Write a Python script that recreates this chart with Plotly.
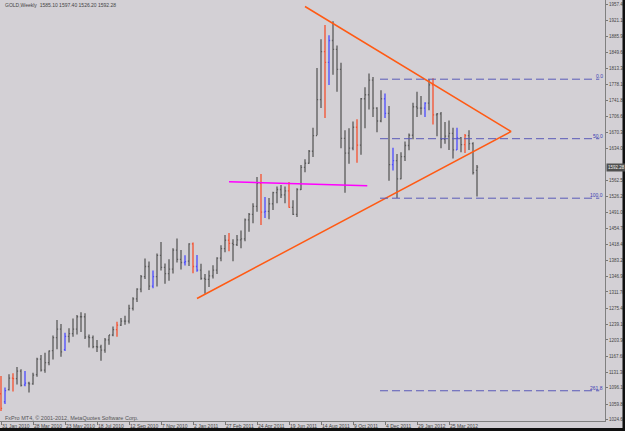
import pandas as pd
import plotly.graph_objects as go

# ---------------- data ----------------
start_week = "2010-01-31"   # first weekly bar (Sunday)

opens = [1083, 1065, 1092, 1118, 1117, 1134, 1103, 1107, 1105, 1126,
         1161, 1136, 1153, 1180, 1209, 1228, 1182, 1212, 1218, 1228,
         1256, 1256, 1211, 1209, 1189, 1188, 1181, 1204, 1215, 1227,
         1237, 1246, 1246, 1275, 1296, 1318, 1346, 1369, 1325, 1346,
         1394, 1367, 1353, 1363, 1406, 1385, 1378, 1381, 1420, 1369,
         1361, 1342, 1340, 1348, 1361, 1388, 1409, 1428, 1421, 1418,
         1429, 1431, 1474, 1486, 1504, 1556, 1491, 1493, 1510, 1535,
         1542, 1530, 1539, 1502, 1486, 1542, 1592, 1601, 1628, 1663,
         1744, 1852, 1828, 1877, 1857, 1812, 1657, 1624, 1635, 1682,
         1642, 1746, 1755, 1788, 1725, 1696, 1746, 1713, 1598, 1607,
         1566, 1616, 1641, 1664, 1728, 1725, 1725, 1736, 1777, 1710,
         1712, 1655, 1662, 1668, 1631, 1658, 1643, 1663, 1645, 1585.10]
highs = [1123, 1097, 1127, 1129, 1143, 1138, 1134, 1110, 1130, 1164,
         1170, 1175, 1180, 1214, 1249, 1240, 1220, 1230, 1252, 1260,
         1266, 1264, 1216, 1214, 1204, 1193, 1208, 1215, 1234, 1245,
         1253, 1258, 1283, 1300, 1320, 1350, 1387, 1380, 1360, 1398,
         1424, 1376, 1385, 1410, 1432, 1406, 1394, 1421, 1423, 1395,
         1375, 1352, 1360, 1372, 1390, 1417, 1440, 1444, 1430, 1440,
         1450, 1477, 1489, 1511, 1570, 1577, 1525, 1523, 1537, 1549,
         1552, 1549, 1559, 1518, 1545, 1597, 1610, 1631, 1681, 1815,
         1880, 1912, 1889, 1920, 1866, 1827, 1675, 1680, 1695, 1700,
         1748, 1772, 1803, 1795, 1727, 1765, 1758, 1730, 1636, 1622,
         1626, 1650, 1668, 1737, 1762, 1752, 1738, 1790, 1792, 1714,
         1716, 1694, 1697, 1681, 1681, 1660, 1667, 1675, 1648, 1597.40]
lows = [1044, 1060, 1090, 1088, 1104, 1099, 1100, 1086, 1103, 1121,
        1133, 1130, 1147, 1160, 1183, 1166, 1179, 1198, 1211, 1216,
        1222, 1206, 1187, 1185, 1177, 1157, 1175, 1193, 1212, 1211,
        1235, 1238, 1241, 1270, 1289, 1311, 1341, 1316, 1320, 1324,
        1360, 1330, 1337, 1353, 1378, 1362, 1371, 1370, 1354, 1357,
        1339, 1308, 1323, 1342, 1352, 1381, 1401, 1403, 1381, 1415,
        1410, 1426, 1447, 1466, 1492, 1462, 1478, 1475, 1496, 1511,
        1523, 1511, 1501, 1485, 1480, 1541, 1581, 1600, 1615, 1664,
        1725, 1703, 1777, 1800, 1762, 1635, 1535, 1600, 1630, 1602,
        1620, 1680, 1722, 1705, 1671, 1693, 1703, 1562, 1585, 1523,
        1565, 1606, 1630, 1655, 1705, 1710, 1705, 1720, 1688, 1662,
        1635, 1645, 1631, 1612, 1631, 1626, 1624, 1631, 1576, 1526.20]
closes = [1050, 1090, 1118, 1117, 1134, 1102, 1107, 1105, 1125, 1161,
          1136, 1153, 1179, 1209, 1228, 1177, 1212, 1218, 1228, 1256,
          1256, 1211, 1209, 1189, 1188, 1181, 1204, 1215, 1227, 1237,
          1246, 1246, 1275, 1296, 1318, 1346, 1369, 1325, 1346, 1394,
          1367, 1353, 1363, 1406, 1385, 1378, 1380, 1420, 1369, 1361,
          1342, 1340, 1348, 1361, 1388, 1409, 1428, 1421, 1418, 1429,
          1431, 1474, 1486, 1504, 1556, 1491, 1493, 1510, 1535, 1542,
          1530, 1539, 1502, 1486, 1542, 1592, 1601, 1628, 1663, 1744,
          1852, 1828, 1877, 1857, 1812, 1657, 1624, 1635, 1682, 1642,
          1746, 1755, 1788, 1725, 1696, 1746, 1713, 1598, 1607, 1566,
          1616, 1641, 1664, 1728, 1725, 1725, 1736, 1777, 1710, 1712,
          1655, 1662, 1668, 1631, 1658, 1643, 1663, 1645, 1580, 1592.28]

red_weeks = [0, 3, 29, 48, 57, 65, 72, 81, 89, 108, 116]
blue_weeks = [1, 6, 16, 38, 46, 49, 66, 82, 96, 98, 106, 114]

x_tick_dates = ["2010-01-31", "2010-03-28", "2010-05-23", "2010-07-18", "2010-09-12",
                "2010-11-07", "2011-01-02", "2011-02-27", "2011-04-24", "2011-06-19",
                "2011-08-14", "2011-10-09", "2011-12-04", "2012-01-29", "2012-03-25"]
x_tick_labels = ["31 Jan 2010", "28 Mar 2010", "23 May 2010", "18 Jul 2010", "12 Sep 2010",
                 "7 Nov 2010", "2 Jan 2011", "27 Feb 2011", "24 Apr 2011", "19 Jun 2011",
                 "14 Aug 2011", "9 Oct 2011", "4 Dec 2011", "29 Jan 2012", "25 Mar 2012"]
y_tick_labels = ["1024.60", "1059.80", "1096.10", "1131.30", "1167.60", "1203.90",
                 "1239.10", "1275.40", "1311.70", "1346.90", "1383.20", "1418.40",
                 "1454.70", "1491.00", "1526.20", "1562.50", "1634.00", "1670.30",
                 "1706.60", "1741.80", "1778.10", "1813.30", "1849.60", "1885.90",
                 "1921.10", "1957.40"]

# triangle (lower start -> apex -> upper start)
tri_dates = ["2011-01-09", "2012-07-11 12:00", "2011-07-17"]
tri_prices = [1297.0, 1672.4, 1953.4]

# magenta horizontal trend line
mag_dates = ["2011-03-06", "2011-11-03"]
mag_prices = [1559.5, 1550.6]

# Fibonacci retracement
fib_high = 1790.0
fib_low = 1522.5
fib_levels = [0.0, 50.0, 100.0, 261.8]
fib_labels = ["0.0", "50.0", "100.0", "261.8"]
fib_start = "2011-11-25 06:00"
fib_end = "2012-12-13"

header_text = "GOLD,Weekly  1585.10 1597.40 1526.20 1592.28"
footer_text = "FxPro MT4, \u00a9 2001-2012, MetaQuotes Software Corp."
last_price = 1592.28

# ---------------- figure ----------------
BG = "#d3d0d5"
GREY = "#5a5a5a"
RED = "#f4502f"
BLUE = "#4a4aff"
ORANGE = "#ff5a14"
FIBC = "#5a5ab8"
TXT = "#444444"
FONT = "Liberation Sans"

dates = pd.date_range(start_week, periods=len(opens), freq="7D")
base = pd.Timestamp(start_week)

grey_weeks = [i for i in range(len(opens)) if i not in red_weeks and i not in blue_weeks]

fig = go.Figure()
for idxs, col in [(grey_weeks, GREY), (red_weeks, RED), (blue_weeks, BLUE)]:
    fig.add_trace(go.Ohlc(
        x=[dates[i] for i in idxs],
        open=[opens[i] for i in idxs],
        high=[highs[i] for i in idxs],
        low=[lows[i] for i in idxs],
        close=[closes[i] for i in idxs],
        increasing=dict(line=dict(color=col, width=1.3)),
        decreasing=dict(line=dict(color=col, width=1.3)),
        tickwidth=0.28,
        showlegend=False,
        hoverinfo="skip",
    ))

# magenta line
fig.add_trace(go.Scatter(x=mag_dates, y=mag_prices, mode="lines",
                         line=dict(color="#ff00ff", width=1.5),
                         showlegend=False, hoverinfo="skip"))

# triangle
fig.add_trace(go.Scatter(x=tri_dates, y=tri_prices, mode="lines",
                         line=dict(color=ORANGE, width=1.5),
                         showlegend=False, hoverinfo="skip"))

# fib lines
for lev, lab in zip(fib_levels, fib_labels):
    price = fib_high - (fib_high - fib_low) * lev / 100.0
    fig.add_trace(go.Scatter(x=[fib_start, fib_end], y=[price, price], mode="lines",
                             line=dict(color=FIBC, width=1, dash="8px,4px"),
                             showlegend=False, hoverinfo="skip"))
    fig.add_annotation(x=604 / 605, xref="paper", y=price, yref="y", text=lab,
                       showarrow=False, xanchor="right", yanchor="bottom",
                       font=dict(family=FONT, size=5, color="#3c3cb4"),
                       borderpad=0, yshift=-1)

x0 = base - pd.Timedelta(weeks=0.25)
x1 = base + pd.Timedelta(weeks=151)

fig.update_xaxes(
    type="date", range=[x0, x1],
    tickmode="array", tickvals=x_tick_dates, ticktext=x_tick_labels,
    ticks="outside", ticklen=3, tickcolor="#777777", tickwidth=1,
    ticklabelposition="outside right", tickangle=0, automargin=False,
    tickfont=dict(family=FONT, size=5, color=TXT),
    showline=True, linecolor="#808080", linewidth=1, mirror=True,
    showgrid=False, zeroline=False, rangeslider=dict(visible=False),
    fixedrange=True,
)
fig.update_yaxes(
    side="right", range=[1021.7, 1968.0],
    tickmode="array", tickvals=[float(v) for v in y_tick_labels], ticktext=y_tick_labels,
    ticks="outside", ticklen=2, tickcolor="#777777", tickwidth=1, automargin=False,
    tickfont=dict(family=FONT, size=4.5, color=TXT),
    showline=True, linecolor="#808080", linewidth=1, mirror=True,
    showgrid=False, zeroline=False, fixedrange=True,
)

# current price label
fig.add_annotation(x=606 / 605, xref="paper", y=last_price, yref="y", text="1592.28",
                   showarrow=False, xanchor="left", yanchor="middle",
                   bgcolor="#505050", font=dict(family=FONT, size=4.5, color="#f0f0f0"),
                   borderpad=1)

# header / footer
fig.add_annotation(x=3 / 605, xref="paper", y=1 - 5.3 / 421, yref="paper", text=header_text,
                   showarrow=False, xanchor="left", yanchor="middle",
                   font=dict(family=FONT, size=5, color=TXT))
fig.add_annotation(x=3 / 605, xref="paper", y=1 - 417.5 / 421, yref="paper", text=footer_text,
                   showarrow=False, xanchor="left", yanchor="middle",
                   font=dict(family=FONT, size=5.5, color="#555555"))

# dark window borders (right and bottom)
fig.add_shape(type="rect", xref="paper", yref="paper", x0=622.5 / 605, x1=630 / 605,
              y0=-12 / 421, y1=1.02, fillcolor="#101010", line=dict(width=0), layer="above")
fig.add_shape(type="rect", xref="paper", yref="paper", x0=-0.01, x1=630 / 605,
              y0=-12 / 421, y1=-7 / 421, fillcolor="#101010", line=dict(width=0), layer="above")

fig.update_layout(
    width=625, height=431, autosize=False,
    margin=dict(l=0, r=20, t=0, b=10, pad=0),
    plot_bgcolor=BG, paper_bgcolor=BG,
    showlegend=False,
)

fig.write_html("out.html")
